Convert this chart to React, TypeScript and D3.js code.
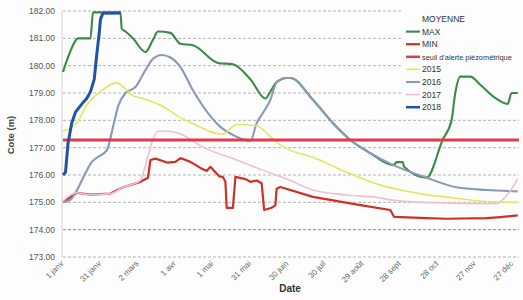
import React from "react";
import * as d3 from "d3";

// jour de l'année (0 = 1 janv) / cote en m
const maxSerie: [number, number][] = [
  [0, 179.77], [4, 180.3], [8, 180.75], [12, 181.0], [22, 181.0], [24, 181.95],
  [46, 181.95], [47, 181.35], [50, 181.25], [56, 181.0], [66, 180.5], [72, 180.95],
  [76, 181.25], [86, 181.2], [94, 180.8], [104, 180.75], [124, 180.1], [136, 180.05],
  [150, 179.5], [162, 178.8], [166, 179.05], [171, 179.4], [179, 179.55], [182, 179.55],
  [200, 178.75], [216, 177.9], [230, 177.28], [246, 176.8], [264, 176.37], [266, 176.42],
  [267, 176.47], [272, 176.47], [273, 176.3], [291, 175.9], [304, 177.3], [311, 178.0],
  [314, 179.0], [318, 179.6], [326, 179.6], [334, 179.3], [345, 178.85], [356, 178.6],
  [359, 179.0], [364, 179.0],
];
const minSerie: [number, number][] = [
  [0, 175.0], [11, 175.35], [22, 175.28], [38, 175.32], [48, 175.55], [62, 175.75],
  [68, 175.9], [70, 176.55], [74, 176.6], [84, 176.45], [90, 176.48], [94, 176.62],
  [102, 176.48], [110, 176.26], [115, 176.15], [118, 176.3], [122, 176.1], [125, 175.95],
  [128, 175.93], [130, 175.75], [131, 174.8], [136, 174.8], [138, 175.93], [146, 175.85],
  [150, 175.75], [155, 175.8], [159, 175.7], [161, 174.72], [167, 174.8], [170, 174.9],
  [171, 175.5], [174, 175.56], [200, 175.2], [238, 174.9], [262, 174.72], [265, 174.47],
  [291, 174.42], [307, 174.4], [339, 174.42], [350, 174.46], [364, 174.52],
];
const seuilSerie: [number, number][] = [[0, 177.28], [365, 177.28]];
const serie2015: [number, number][] = [
  [0, 177.6], [11, 177.9], [19, 178.55], [30, 179.05], [43, 179.37], [50, 179.15],
  [56, 178.9], [64, 178.8], [78, 178.55], [94, 178.1], [110, 177.75], [120, 177.55],
  [128, 177.5], [139, 177.85], [155, 177.8], [166, 177.4], [174, 177.1], [182, 176.9],
  [200, 176.65], [227, 176.1], [254, 175.63], [270, 175.45], [288, 175.3], [315, 175.15],
  [342, 175.02], [364, 175.0],
];
const serie2016: [number, number][] = [
  [0, 175.0], [6, 175.1], [10, 175.35], [18, 176.07], [23, 176.48], [28, 176.66],
  [35, 176.9], [40, 177.75], [44, 178.5], [50, 179.0], [58, 179.22], [66, 179.84],
  [71, 180.2], [79, 180.39], [86, 180.3], [94, 179.95], [104, 179.1], [126, 177.76],
  [139, 177.4], [150, 177.25], [155, 177.9], [160, 178.27], [166, 178.75], [171, 179.4],
  [179, 179.55], [182, 179.55], [200, 178.75], [216, 177.9], [230, 177.28], [246, 176.8],
  [264, 176.37], [291, 175.9], [315, 175.55], [339, 175.45], [364, 175.4],
];
const serie2017: [number, number][] = [
  [0, 175.05], [11, 175.35], [22, 175.28], [38, 175.32], [48, 175.55], [62, 175.8],
  [65, 176.2], [68, 176.7], [72, 177.3], [76, 177.6], [84, 177.6], [94, 177.5],
  [112, 177.02], [139, 176.55], [166, 176.07], [182, 175.8], [200, 175.45], [227, 175.27],
  [254, 175.16], [262, 175.09], [288, 175.0], [347, 174.95], [356, 175.3], [364, 175.85],
];
const serie2018: [number, number][] = [
  [0, 176.0], [2, 176.1], [4, 177.15], [7, 177.9], [10, 178.3], [16, 178.65],
  [19, 178.8], [22, 179.05], [25, 179.5], [27, 180.4], [29, 181.2], [30, 181.7],
  [32, 181.92], [46, 181.93],
];

const yTicks = [173, 174, 175, 176, 177, 178, 179, 180, 181, 182];
const xTicks = [0, 30, 60, 90, 120, 150, 180, 210, 240, 270, 300, 330, 360];
const xLabels = ["1 janv", "31 janv", "2 mars", "1 avr", "1 mai", "31 mai", "30 juin",
  "30 juil", "29 août", "28 sept", "28 oct", "27 nov", "27 déc"];

const legendNames = ["MOYENNE", "MAX", "MIN", "seuil d'alerte piézométrique", "2015", "2016", "2017", "2018"];

const font = "'Liberation Sans', Arial, sans-serif";

export default function App() {
  const x = d3.scaleLinear().domain([0, 365]).range([63, 519]);
  const y = d3.scaleLinear().domain([173, 182]).range([257, 11]);

  const smooth = d3.line<[number, number]>().x((d) => x(d[0])).y((d) => y(d[1])).curve(d3.curveMonotoneX);
  const straight = d3.line<[number, number]>().x((d) => x(d[0])).y((d) => y(d[1]));

  const series = [
    { name: "MOYENNE", data: null, color: "#f2f2f2", w: 1.5, gen: smooth },
    { name: "MAX", data: maxSerie, color: "#3c8a46", w: 2.1, gen: smooth },
    { name: "MIN", data: minSerie, color: "#cc3128", w: 2.2, gen: straight },
    { name: "seuil d'alerte piézométrique", data: seuilSerie, color: "#df3b4a", w: 3, gen: straight },
    { name: "2015", data: serie2015, color: "#e4e65e", w: 1.6, gen: smooth },
    { name: "2016", data: serie2016, color: "#8a99b6", w: 2.1, gen: smooth },
    { name: "2017", data: serie2017, color: "#f2bfd0", w: 1.6, gen: smooth },
    { name: "2018", data: serie2018, color: "#2252a8", w: 3, gen: straight },
  ];

  // ordre de tracé
  const drawOrder = ["MAX", "MIN", "2016", "2015", "2017", "seuil d'alerte piézométrique", "2018"];

  return (
    <svg width={523} height={300} style={{ position: "fixed", left: 0, top: 0, background: "#fdfdfd" }}>
      {/* grille */}
      {yTicks.map((t) => (
        <g key={t}>
          <line x1={x(0)} x2={x(365)} y1={y(t)} y2={y(t)}
            stroke={t === 174 ? "#8a8a8a" : "#b4b4b4"} strokeWidth={1} strokeDasharray="3,2" />
          <text x={55} y={y(t) + 3} textAnchor="end" fontSize={8.5} fill="#555" fontFamily={font}>
            {t.toFixed(2)}
          </text>
        </g>
      ))}
      <line x1={x(0) - 1} x2={x(0) - 1} y1={y(182)} y2={y(173)} stroke="#d0d0d0" strokeWidth={1} />

      {/* fond légende */}
      <rect x={403} y={8} width={120} height={105} fill="#fdfdfd" />

      {drawOrder.map((n) => {
        const s = series.find((d) => d.name === n)!;
        return (
          <path key={n} d={s.gen(s.data as [number, number][]) || ""} fill="none"
            stroke={s.color} strokeWidth={s.w} strokeLinejoin="round" />
        );
      })}

      {/* axe X */}
      {xTicks.map((t, i) => (
        <text key={t} transform={`translate(${x(t) + 1},${264}) rotate(-45)`} textAnchor="end"
          fontSize={8} fill="#666" fontFamily={font}>
          {xLabels[i]}
        </text>
      ))}
      <text x={290} y={292} textAnchor="middle" fontSize={10} fontWeight="bold" fill="#333" fontFamily={font}>
        Date
      </text>
      <text transform={`translate(14,${135}) rotate(-90)`} textAnchor="middle" fontSize={9.5}
        fontWeight="bold" fill="#444" fontFamily={font}>
        Cote (m)
      </text>

      {/* légende */}
      {legendNames.map((n, i) => {
        const s = series.find((d) => d.name === n)!;
        const ly = 19 + i * 12.6;
        const long = n.length > 12;
        return (
          <g key={n}>
            {i > 0 && <line x1={406} x2={420} y1={ly} y2={ly} stroke={s.color} strokeWidth={Math.min(s.w, 2.5)} />}
            <text x={422} y={ly + 3} fontSize={long ? 7.4 : 8.5} fill="#333" fontFamily={font}>
              {n}
            </text>
          </g>
        );
      })}
    </svg>
  );
}
